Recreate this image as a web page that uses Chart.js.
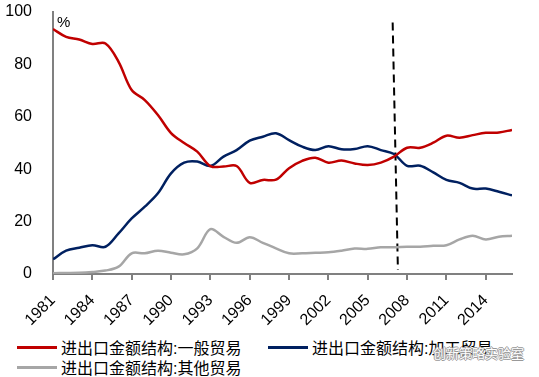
<!DOCTYPE html>
<html>
<head>
<meta charset="utf-8">
<script src="https://cdn.jsdelivr.net/npm/chart.js@4.4.1/dist/chart.umd.min.js"></script>
<style>
  html, body { margin: 0; padding: 0; background: #fff; }
  #wrap { position: relative; width: 539px; height: 377px; overflow: hidden; }
  #chart { position: absolute; left: 0; top: 0; }
  .pct { position: absolute; left: 57px; top: 13px; font: 15px "Liberation Sans", Arial, sans-serif; color: #000; }
  .legend-item { position: absolute; height: 20px; display: flex; align-items: center;
    font: 16px "Liberation Sans", "Noto Sans CJK SC", sans-serif; color: #000; white-space: nowrap; }
  .legend-item .swatch { width: 40px; height: 3px; margin-right: 4px; }
  .mark { position: absolute; left: 433px; top: 343px; font: 13px "Noto Sans CJK SC", sans-serif;
    color: #fff; white-space: nowrap;
    text-shadow: -1px 0 #999, 1px 0 #999, 0 -1px #999, 0 1px #999; }
</style>
</head>
<body>
<div id="wrap">
  <canvas id="chart" width="539" height="335"></canvas>
  <div class="pct">%</div>
  <div id="legend"></div>
  <div class="mark">创新策略实验室</div>
</div>
<script>
document.addEventListener('DOMContentLoaded', function() {
  const years = [1981, 1982, 1983, 1984, 1985, 1986, 1987, 1988, 1989, 1990, 1991, 1992,
    1993, 1994, 1995, 1996, 1997, 1998, 1999, 2000, 2001, 2002, 2003, 2004,
    2005, 2006, 2007, 2008, 2009, 2010, 2011, 2012, 2013, 2014, 2015, 2016];
  const tickYears = [1981, 1984, 1987, 1990, 1993, 1996, 1999, 2002, 2005, 2008, 2011, 2014];
  const yTicks = [0, 20, 40, 60, 80, 100];

  const seriesNames = ['进出口金额结构:一般贸易', '进出口金额结构:加工贸易', '进出口金额结构:其他贸易'];
  const generalTrade = [93.5, 90.5, 89.5, 87.8, 88, 81, 70.2, 66.4, 60.7, 53.8, 50, 46.7,
    41.2, 41, 41.2, 34.8, 35.9, 36, 40.4, 43.2, 44.4, 42.5, 43.3, 42.2,
    41.6, 42.5, 44.8, 48.2, 48.2, 50.1, 52.8, 52, 53, 53.9, 54, 55];
  const processingTrade = [5.6, 8.9, 10, 11, 10.4, 15.5, 21.2, 25.7, 30.8, 38.4, 42.5, 42.9,
    41.2, 44.8, 47.3, 50.9, 52.4, 53.7, 51.1, 48.6, 47.3, 48.8, 47.6, 47.7,
    48.8, 47.3, 45.8, 41.3, 41.3, 38.8, 35.9, 34.8, 32.6, 32.6, 31.4, 30];
  const otherTrade = [0.3, 0.4, 0.5, 0.8, 1.3, 2.8, 7.9, 7.9, 8.9, 8.1, 7.5, 9.8,
    17.1, 14.2, 11.9, 14, 11.9, 9.8, 7.9, 7.9, 8.1, 8.3, 8.9, 9.7,
    9.6, 10.2, 10.2, 10.4, 10.4, 10.8, 11, 13.2, 14.6, 13.2, 14.2, 14.6];

  // vertical dashed marker around 2007
  const dividerX = [2006.9, 2007.3];
  const dividerY = [96, 1.5];

  const colors = ['#C00000', '#002060', '#A6A6A6'];
  const values = [generalTrade, processingTrade, otherTrade];

  function toPoints(xs, ys) {
    return xs.map((x, i) => ({ x: x, y: ys[i] }));
  }

  const datasets = values.map((vals, i) => ({
    label: seriesNames[i],
    data: toPoints(years, vals),
    borderColor: colors[i],
    borderWidth: 2.5,
    pointRadius: 0,
    tension: 0.35,
    fill: false
  }));
  datasets.push({
    label: 'divider',
    data: toPoints(dividerX, dividerY),
    borderColor: '#000',
    borderWidth: 2,
    borderDash: [8, 5],
    pointRadius: 0,
    tension: 0
  });

  new Chart(document.getElementById('chart'), {
    type: 'line',
    data: { datasets: datasets },
    options: {
      responsive: false,
      animation: false,
      layout: { padding: { left: 0, right: 27, top: 12, bottom: 0 } },
      plugins: { legend: { display: false }, tooltip: { enabled: false } },
      scales: {
        x: {
          type: 'linear',
          min: 1981,
          max: 2016,
          afterBuildTicks: function(scale) {
            scale.ticks = tickYears.map(v => ({ value: v }));
          },
          afterFit: function(scale) { scale.height = 61; },
          border: { color: '#808080', width: 2 },
          grid: { drawOnChartArea: false, drawTicks: true, tickLength: 6, color: '#808080', lineWidth: 2 },
          ticks: {
            minRotation: 45,
            maxRotation: 45,
            autoSkip: false,
            padding: 11,
            color: '#000',
            font: { family: '"Liberation Sans", Arial, sans-serif', size: 16 },
            callback: v => String(v)
          }
        },
        y: {
          min: 0,
          max: 100,
          afterBuildTicks: function(scale) {
            scale.ticks = yTicks.map(v => ({ value: v }));
          },
          afterFit: function(scale) { scale.width = 53; },
          border: { color: '#808080', width: 2 },
          // invisible tick marks keep the labels away from the axis
          grid: { drawOnChartArea: false, drawTicks: true, tickLength: 20, color: 'rgba(0,0,0,0)' },
          ticks: {
            padding: 1,
            color: '#000',
            font: { family: '"Liberation Sans", Arial, sans-serif', size: 16 }
          }
        }
      }
    }
  });

  // legend built from the same series
  const legend = document.getElementById('legend');
  const legendPos = [[17, 337], [268, 337], [17, 357]];
  seriesNames.forEach(function(name, i) {
    const item = document.createElement('div');
    item.className = 'legend-item';
    item.style.left = legendPos[i][0] + 'px';
    item.style.top = legendPos[i][1] + 'px';
    item.innerHTML = `<span class="swatch" style="background:${colors[i]}"></span><span>${name}</span>`;
    legend.appendChild(item);
  });
});
</script>
</body>
</html>
